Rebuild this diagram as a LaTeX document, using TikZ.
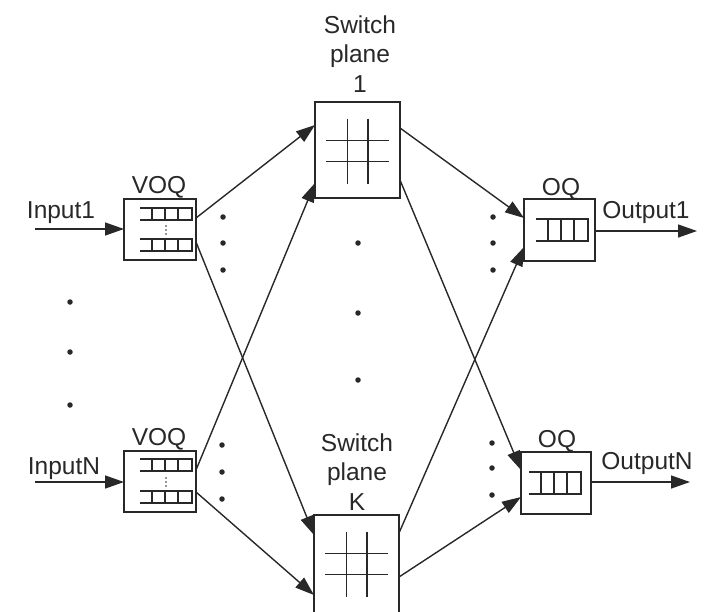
\documentclass[tikz,border=0pt]{standalone}
\usepackage{fontspec}
\setmainfont{Liberation Sans}
\usetikzlibrary{arrows.meta,calc}
\definecolor{ink}{RGB}{40,40,40}
\newcommand\myqueue[3]{%
  \draw[qline] (#1,#2) -- ++(52,0) -- ++(0,#3) -- ++(-52,0);
  \foreach \dx in {12,25,38} \draw[qline] (#1+\dx,#2) -- ++(0,#3);}
\newcommand\mygrid[2]{%
  \draw[qline] (#1-10,#2-32) -- (#1-10,#2+33);
  \draw[qline] (#1+10.5,#2-32) -- (#1+10.5,#2+33);
  \draw[qline] (#1-31.5,#2-10) -- (#1+31.5,#2-10);
  \draw[qline] (#1-31.5,#2+11) -- (#1+31.5,#2+11);}
\begin{document}
\begin{tikzpicture}[x=1pt,y=-1pt, color=ink,
  lbl/.style={font=\fontsize{24.5}{29}\selectfont, inner sep=0pt, anchor=base},
  box/.style={draw, line width=1.5pt, inner sep=0pt, outer sep=0pt, rectangle},
  qline/.style={line width=1.4pt},
  conn/.style={line width=1.4pt, -{Triangle[length=19pt,width=13pt]}},
  dot/.style={circle, fill, inner sep=0pt, minimum size=5.5pt},
  sdot/.style={circle, fill, inner sep=0pt, minimum size=1.8pt}]
\useasboundingbox (0,0) rectangle (709,611);

% boxes
\node[box, minimum width=72pt, minimum height=61pt] (voq1) at (160,229.5) {};
\node[box, minimum width=72pt, minimum height=61pt] (voqN) at (160,481.5) {};
\node[box, minimum width=85pt, minimum height=96pt] (pl1) at (357.5,150) {};
\node[box, minimum width=85pt, minimum height=98pt] (plK) at (356.5,564) {};
\node[box, minimum width=71pt, minimum height=62pt] (oq1) at (559.5,230) {};
\node[box, minimum width=70pt, minimum height=62pt] (oqN) at (556,483) {};

% box contents
\myqueue{140}{208}{12}
\myqueue{140}{239}{12}
\node[sdot] (v1d1) at (166,226) {};
\node[sdot] (v1d2) at (166,230) {};
\node[sdot] (v1d3) at (166,234) {};
\myqueue{140}{459}{12}
\myqueue{140}{491}{12}
\node[sdot] (vNd1) at (166,478) {};
\node[sdot] (vNd2) at (166,482) {};
\node[sdot] (vNd3) at (166,486) {};
\myqueue{536}{219}{22}
\myqueue{529}{472}{22}
\mygrid{357.5}{150.5}
\mygrid{356.5}{563.5}

% labels
\node[lbl] (tvoq1) at (159,193) {VOQ};
\node[lbl] (tvoqN) at (159,445) {VOQ};
\node[lbl] (toq1) at (561,195) {OQ};
\node[lbl] (toqN) at (557,447) {OQ};
\node[lbl] (tin1) at (61,218) {Input1};
\node[lbl] (tinN) at (64,474) {InputN};
\node[lbl] (tout1) at (646,218) {Output1};
\node[lbl] (toutN) at (647,469) {OutputN};
\node[lbl] (ts1a) at (360,33) {Switch};
\node[lbl] (ts1b) at (360,62) {plane};
\node[lbl] (ts1c) at (360,92) {1};
\node[lbl] (tsKa) at (357,451) {Switch};
\node[lbl] (tsKb) at (357,480) {plane};
\node[lbl] (tsKc) at (357,510) {K};

% input / output arrows
\coordinate (in1) at (35,229);
\coordinate (inN) at (35,482);
\coordinate (out1) at (697,231);
\coordinate (outN) at (690,482);
\draw[conn] (in1) -- (voq1.west |- in1);
\draw[conn] (inN) -- (voqN.west |- inN);
\draw[conn] (oq1.east |- out1) -- (out1);
\draw[conn] (oqN.east |- outN) -- (outN);

% crossbar connections
\draw[conn] ($(voq1.north east)+(0,19)$) -- ($(pl1.north west)+(0,23)$);
\draw[conn] ($(voq1.north east)+(0,43)$) -- ($(plK.north west)+(0,20)$);
\draw[conn] ($(voqN.north east)+(0,19)$) -- ($(pl1.north west)+(0,81)$);
\draw[conn] ($(voqN.north east)+(0,41)$) -- ($(plK.north west)+(0,80)$);
\draw[conn] ($(pl1.north east)+(0,26)$) -- ($(oq1.north west)+(0,19)$);
\draw[conn] ($(pl1.north east)+(0,78)$) -- ($(oqN.north west)+(0,18)$);
\draw[conn] ($(plK.north east)+(0,18)$) -- ($(oq1.north west)+(0,48)$);
\draw[conn] ($(plK.north east)+(0,62)$) -- ($(oqN.north west)+(0,45)$);

% ellipsis dots
\foreach \y [count=\i] in {302,352,405} \node[dot] (ld\i) at (70,\y) {};
\foreach \y [count=\i] in {243,313,380} \node[dot] (cd\i) at (358,\y) {};
\foreach \y [count=\i] in {217,243,270} \node[dot] (a\i) at (223,\y) {};
\foreach \y [count=\i] in {445,472,499} \node[dot] (b\i) at (222,\y) {};
\foreach \y [count=\i] in {217,243,270} \node[dot] (c\i) at (493,\y) {};
\foreach \y [count=\i] in {443,468,495} \node[dot] (d\i) at (492,\y) {};
\end{tikzpicture}
\end{document}
